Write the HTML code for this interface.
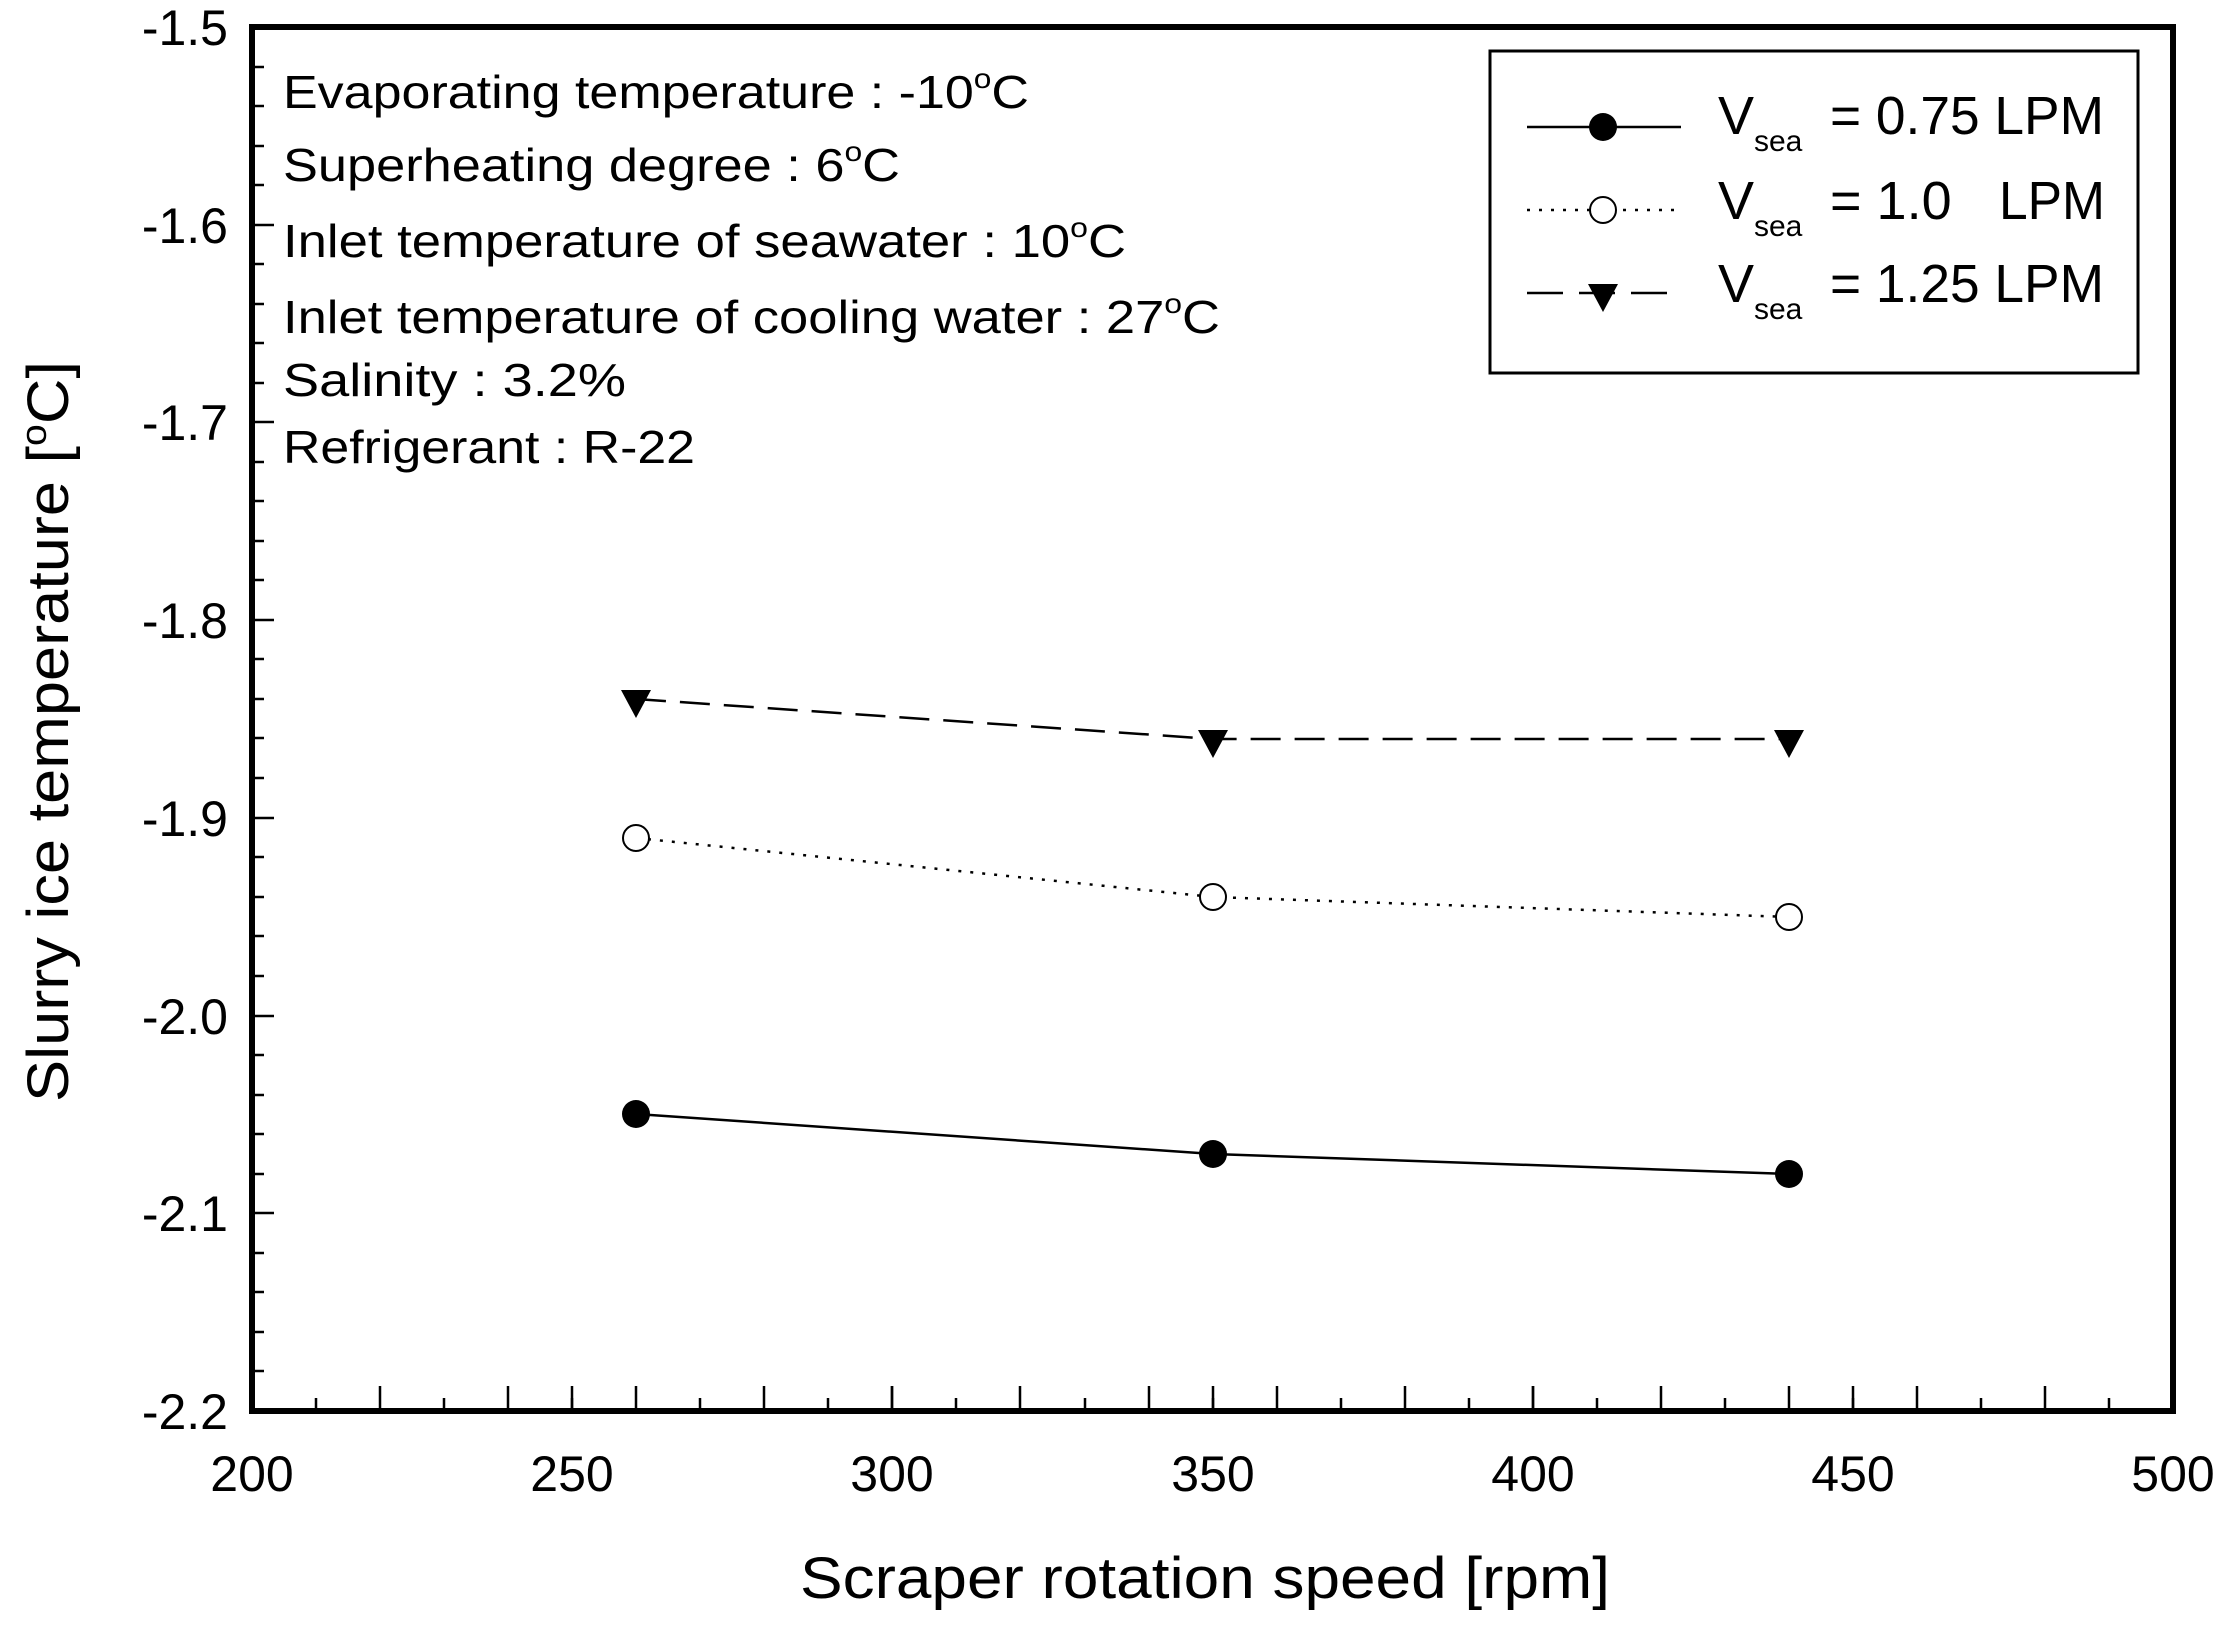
<!DOCTYPE html>
<html><head><meta charset="utf-8"><style>html,body{margin:0;padding:0;background:#fff}svg{display:block}</style></head>
<body>
<svg width="2220" height="1632" viewBox="0 0 2220 1632" xmlns="http://www.w3.org/2000/svg" font-family="Liberation Sans, Arial, sans-serif" fill="#000">
<rect width="2220" height="1632" fill="#fff"/>
<!-- ticks -->
<g stroke="#000" stroke-width="2.5">
<!-- x ticks -->
<path d="M380,1411v-25M508,1411v-25M636,1411v-25M764,1411v-25M892,1411v-25M1020,1411v-25M1149,1411v-25M1277,1411v-25M1405,1411v-25M1533,1411v-25M1661,1411v-25M1789,1411v-25M1917,1411v-25M2045,1411v-25"/>
<path d="M316,1411v-13M380,1411v0M444,1411v-13M508,1411v0M572,1411v-13M700,1411v-13M828,1411v-13M956,1411v-13M1085,1411v-13M1213,1411v-13M1341,1411v-13M1469,1411v-13M1597,1411v-13M1725,1411v-13M1853,1411v-13M1981,1411v-13M2109,1411v-13"/>
<path d="M572,1411v-25M892,1411v-25M1213,1411v-25M1533,1411v-25M1853,1411v-25"/>
<!-- y ticks -->
<path d="M252,225h22M252,422h22M252,620h22M252,818h22M252,1016h22M252,1213h22"/>
<path d="M252,67h12M252,106h12M252,146h12M252,185h12M252,264h12M252,304h12M252,343h12M252,383h12M252,462h12M252,501h12M252,541h12M252,580h12M252,659h12M252,699h12M252,738h12M252,778h12M252,857h12M252,897h12M252,936h12M252,976h12M252,1055h12M252,1095h12M252,1134h12M252,1174h12M252,1253h12M252,1292h12M252,1332h12M252,1371h12"/>
</g>
<rect x="252" y="27" width="1921" height="1384" fill="none" stroke="#000" stroke-width="6"/>
<!-- y tick labels -->
<g font-size="50" text-anchor="end">
<text x="228" y="45">-1.5</text><text x="228" y="243">-1.6</text><text x="228" y="440">-1.7</text><text x="228" y="638">-1.8</text><text x="228" y="836">-1.9</text><text x="228" y="1034">-2.0</text><text x="228" y="1231">-2.1</text><text x="228" y="1429">-2.2</text>
</g>
<g font-size="50" text-anchor="middle">
<text x="252" y="1491">200</text><text x="572" y="1491">250</text><text x="892" y="1491">300</text><text x="1213" y="1491">350</text><text x="1533" y="1491">400</text><text x="1853" y="1491">450</text><text x="2173" y="1491">500</text>
</g>
<text x="800" y="1598" font-size="58" textLength="810" lengthAdjust="spacingAndGlyphs">Scraper rotation speed [rpm]</text>
<text transform="translate(68,1102) rotate(-90)" font-size="58" textLength="741" lengthAdjust="spacingAndGlyphs">Slurry ice temperature [<tspan font-size="36" dy="-22">o</tspan><tspan dy="22">C]</tspan></text>
<!-- annotation -->
<g font-size="46">
<text x="283" y="108" textLength="746" lengthAdjust="spacingAndGlyphs">Evaporating temperature : -10<tspan font-size="28" dy="-20">o</tspan><tspan dy="20">C</tspan></text>
<text x="283" y="181" textLength="617" lengthAdjust="spacingAndGlyphs">Superheating degree : 6<tspan font-size="28" dy="-20">o</tspan><tspan dy="20">C</tspan></text>
<text x="283" y="257" textLength="843" lengthAdjust="spacingAndGlyphs">Inlet temperature of seawater : 10<tspan font-size="28" dy="-20">o</tspan><tspan dy="20">C</tspan></text>
<text x="283" y="333" textLength="937" lengthAdjust="spacingAndGlyphs">Inlet temperature of cooling water : 27<tspan font-size="28" dy="-20">o</tspan><tspan dy="20">C</tspan></text>
<text x="283" y="396" textLength="343" lengthAdjust="spacingAndGlyphs">Salinity : 3.2%</text>
<text x="283" y="463" textLength="412" lengthAdjust="spacingAndGlyphs">Refrigerant : R-22</text>
</g>
<!-- series -->
<polyline points="636,699 1213,739 1789,739" fill="none" stroke="#000" stroke-width="2.5" stroke-dasharray="30,14"/>
<polyline points="636,838 1213,897 1789,917" fill="none" stroke="#000" stroke-width="2.5" stroke-dasharray="3,9"/>
<polyline points="636,1114 1213,1154 1789,1174" fill="none" stroke="#000" stroke-width="2.5"/>
<g>
<path d="M621,690h30l-15,28z M1198,730h30l-15,28z M1774,730h30l-15,28z"/>
<circle cx="636" cy="838" r="13" fill="#fff" stroke="#000" stroke-width="2"/>
<circle cx="1213" cy="897" r="13" fill="#fff" stroke="#000" stroke-width="2"/>
<circle cx="1789" cy="917" r="13" fill="#fff" stroke="#000" stroke-width="2"/>
<circle cx="636" cy="1114" r="14"/>
<circle cx="1213" cy="1154" r="14"/>
<circle cx="1789" cy="1174" r="14"/>
</g>
<!-- legend -->
<rect x="1490" y="51" width="648" height="322" fill="#fff" stroke="#000" stroke-width="3"/>
<line x1="1527" y1="127" x2="1681" y2="127" stroke="#000" stroke-width="2.5"/>
<circle cx="1603" cy="127" r="14"/>
<line x1="1527" y1="210" x2="1681" y2="210" stroke="#000" stroke-width="2.5" stroke-dasharray="3,9"/>
<circle cx="1603" cy="210" r="13" fill="#fff" stroke="#000" stroke-width="2"/>
<line x1="1527" y1="293" x2="1681" y2="293" stroke="#000" stroke-width="2.5" stroke-dasharray="36,16"/>
<path d="M1588,284h30l-15,28z"/>
<g font-size="54">
<text x="1718" y="134">V</text><text x="1754" y="151" font-size="30">sea</text><text x="1830" y="134" textLength="274" lengthAdjust="spacingAndGlyphs">= 0.75 LPM</text>
<text x="1718" y="219">V</text><text x="1754" y="236" font-size="30">sea</text><text x="1830" y="219">= 1.0</text><text x="1999" y="219" textLength="106" lengthAdjust="spacingAndGlyphs">LPM</text>
<text x="1718" y="302">V</text><text x="1754" y="319" font-size="30">sea</text><text x="1830" y="302" textLength="274" lengthAdjust="spacingAndGlyphs">= 1.25 LPM</text>
</g>
</svg>
</body></html>
